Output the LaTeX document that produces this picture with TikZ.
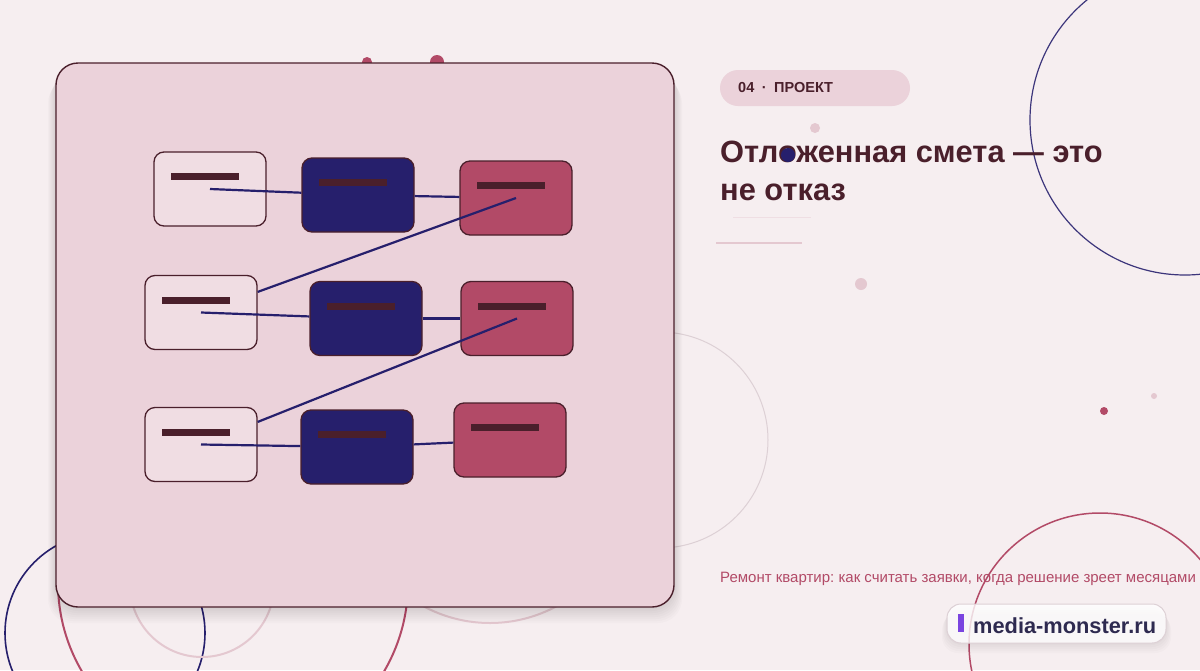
\documentclass[tikz,border=0pt]{standalone}
\usepackage{fontspec}
\setmainfont{Liberation Sans}
\usetikzlibrary{positioning}
\frenchspacing

\definecolor{bg}{HTML}{F6EEF0}
\definecolor{cardpink}{HTML}{EBD2DA}
\definecolor{maroon}{HTML}{4A1F2B}
\definecolor{navy}{HTML}{261F6C}
\definecolor{crimson}{HTML}{B24A67}
\definecolor{paleline}{HTML}{E4C8D0}
\definecolor{greyline}{HTML}{DDD0D5}
\definecolor{boxpink}{HTML}{F0DDE3}
\definecolor{badgetext}{HTML}{2E2A50}
\definecolor{violet}{HTML}{7A45E0}

\begin{document}
\begin{tikzpicture}[x=1pt, y=-1pt]
\tikzset{ring/.style = {line width=1.2pt}}
\tikzset{card/.style = {fill=cardpink, draw=maroon, line width=1.4pt, rounded corners=22pt, minimum width=618pt, minimum height=544pt, inner sep=0pt}}
\tikzset{box/.style = {draw=maroon, line width=1.3pt, rounded corners=10pt, minimum width=112pt, minimum height=74pt, inner sep=0pt,
  path picture={\path[fill=maroon, draw=none, sharp corners] ([shift={(17pt,-21pt)}]path picture bounding box.north west) rectangle ++(68pt,-7pt);}}}
\tikzset{draft/.style = {box, fill=boxpink}}
\tikzset{sent/.style = {box, fill=navy}}
\tikzset{won/.style = {box, fill=crimson}}
\tikzset{link/.style = {draw=navy, line width=2.2pt}}

	\useasboundingbox (0,0) rectangle (1200,670);
	\fill[bg] (0,0) rectangle (1200,670);

	% background rings and dots
	\draw[ring, navy!90] (1185,120) circle (155);
	\draw[ring, greyline, line width=1pt] (660,440) circle (108);
	\draw[ring, navy, line width=1.6pt] (105,633) circle (100);
	\draw[ring, crimson, line width=2pt] (233,583) circle (175);
	\draw[ring, paleline, line width=2pt] (202,585) circle (72);
	\draw[ring, paleline, line width=2pt] (490,483) circle (140);
	\draw[ring, crimson, line width=1.5pt] (1100,644) circle (131);
	\fill[crimson] (367,62) circle (5);
	\fill[crimson] (437,62) circle (7);
	\fill[paleline] (815,128) circle (5);
	\fill[paleline] (861,284) circle (6);
	\fill[crimson] (1104,411) circle (4);
	\fill[paleline] (1154,396) circle (3);

	% card with shadow
	\foreach \s in {2,4,...,16}
	  \fill[black, opacity=0.014, rounded corners=24pt] (56-\s/2,63+\s) rectangle (674+\s/2,607+\s);
	\node[card] (card) at (365,335) {};

	\node[draft] (A1) at (210,189) {};
	\node[sent]  (B1) at (358,195) {};
	\node[won]   (C1) at (516,198) {};
	\node[draft] (A2) at (201,312.5) {};
	\node[sent]  (B2) at (366,318.5) {};
	\node[won]   (C2) at (517,318.5) {};
	\node[draft] (A3) at (201,444.5) {};
	\node[sent]  (B3) at (357,447) {};
	\node[won]   (C3) at (510,440) {};

	\draw[link] (A1.center) -- (B1);
	\draw[link] (B1) -- (C1);
	\draw[link] (C1.center) -- (A2);
	\draw[link] (A2.center) -- (B2);
	\draw[link] (B2) -- (C2);
	\draw[link] (C2.center) -- (A3);
	\draw[link] (A3.center) -- (B3);
	\draw[link] (B3) -- (C3);

	% text column
	\node[fill=cardpink, rounded corners=18pt, minimum width=190pt, minimum height=36pt] (tag) at (815,88) {};
	\node[anchor=west, text=maroon, font=\bfseries\fontsize{14.5}{17}\selectfont, inner sep=0pt] (tagtext) at (738,88) {04\hspace{7.5pt}·\hspace{7.5pt}ПРОЕКТ};
	\node[anchor=base west, text=maroon, font=\bfseries\fontsize{30.8}{38}\selectfont, inner sep=0pt] (title1) at (720,162) {Отложенная смета — это};
	\node[anchor=base west, text=maroon, font=\bfseries\fontsize{30.8}{38}\selectfont, inner sep=0pt] (title2) at (720,200) {не отказ};
	\fill[navy] (788,155) circle (7);
	\draw[paleline!60, line width=1pt] (733,217) -- (811,217);
	\draw[paleline, line width=1.5pt] (716,243) -- (802,243);
	\node[anchor=base west, text=crimson, font=\fontsize{15}{18}\selectfont, inner sep=0pt] (sub) at (720,582) {Ремонт квартир: как считать заявки, когда решение зреет месяцами};

	% badge
	\foreach \s in {2,4,...,10}
	  \fill[black, opacity=0.015, rounded corners=16pt] (947-\s/2,604+\s) rectangle (1166+\s/2,643+\s);
	\node[fill=white, fill opacity=0.8, draw=greyline, line width=1pt, rounded corners=14pt, minimum width=219pt, minimum height=39pt] (badge) at (1056.5,623.5) {};
	\fill[violet] (958,614) rectangle (964,632);
	\node[anchor=base west, text=badgetext, font=\bfseries\fontsize{21.8}{24}\selectfont, inner sep=0pt] (site) at (973,633) {media-monster.ru};
\end{tikzpicture}
\end{document}
